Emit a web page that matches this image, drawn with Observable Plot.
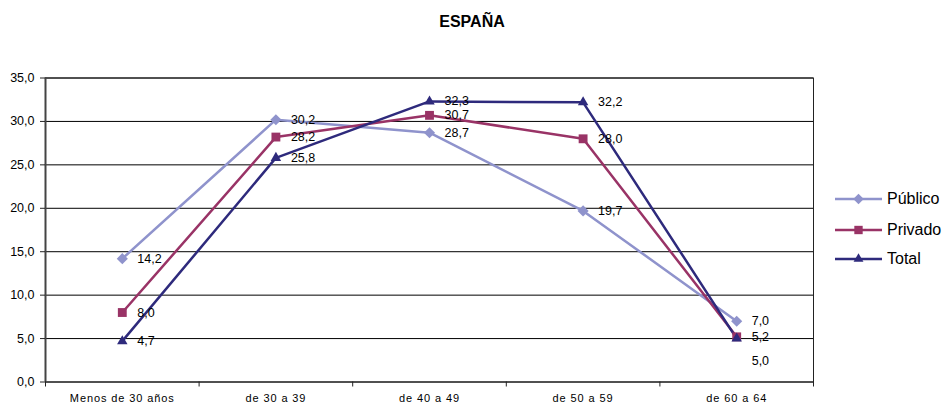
<!DOCTYPE html>
<html>
<head>
<meta charset="utf-8">
<script src="https://cdn.jsdelivr.net/npm/d3@7"></script>
<script src="https://cdn.jsdelivr.net/npm/@observablehq/plot@0.6"></script>
<style>
  html, body { margin: 0; padding: 0; background: #fff; }
  #wrap { position: relative; width: 944px; height: 406px; font-family: "Liberation Sans", Arial, sans-serif; }
  #title { position: absolute; left: 0; width: 944px; top: 13px; text-align: center; font-weight: bold; font-size: 16px; line-height: 18px; }
  #chart { position: absolute; left: 0; top: 0; }
  .leg { position: absolute; left: 835px; height: 20px; display: flex; align-items: center; font-size: 16px; }
  .leg svg { margin-right: 4px; }
  g[aria-label="x-axis tick label"] text { letter-spacing: 0.9px; }
</style>
</head>
<body>
<div id="wrap">
  <div id="chart"></div>
  <div id="title">ESPAÑA</div>
</div>
<script>
const categories = ["Menos de 30 años", "de 30 a 39", "de 40 a 49", "de 50 a 59", "de 60 a 64"];
const seriesNames = ["Público", "Privado", "Total"];
const publico = [14.2, 30.2, 28.7, 19.7, 7.0];
const privado = [8.0, 28.2, 30.7, 28.0, 5.2];
const total = [4.7, 25.8, 32.3, 32.2, 5.0];
const yTicks = [0, 5, 10, 15, 20, 25, 30, 35];
const colors = ["#8f93cc", "#993366", "#2e2a7c"];
const symbols = ["diamond2", "square", "triangle2"];

const values = [publico, privado, total];
const rows = [];
values.forEach((arr, si) => arr.forEach((v, i) => rows.push({i, v, s: seriesNames[si]})));

const fmt = d => d.toFixed(1).replace(".", ",");
const n = categories.length;
const boundaries = d3.range(n + 1).map(i => i - 0.5);
const centers = d3.range(n);
const isLowLabel = d => d.s === "Total" && d.i === n - 1;

const chart = Plot.plot({
  width: 944,
  height: 406,
  marginLeft: 45,
  marginRight: 131,
  marginTop: 77.5,
  marginBottom: 24.5,
  style: {fontFamily: "\"Liberation Sans\", Arial, sans-serif", fontSize: "12.5px", color: "#000", background: "transparent"},
  x: {type: "linear", domain: [-0.5, n - 0.5]},
  y: {domain: [0, 35]},
  color: {domain: seriesNames, range: colors},
  symbol: {domain: seriesNames, range: symbols},
  marks: [
    Plot.ruleY(yTicks, {stroke: "#000", strokeWidth: 1}),
    Plot.frame({stroke: "#222", strokeWidth: 1}),
    Plot.ruleX([-0.5], {stroke: "#444", strokeWidth: 2}),
    Plot.axisY({ticks: yTicks, tickSize: 5, tickPadding: 6, tickFormat: fmt, stroke: "#222", fontSize: 12.5, label: null}),
    Plot.axisX({ticks: boundaries, tickSize: 5, tickFormat: () => "", stroke: "#222", label: null}),
    Plot.axisX({ticks: centers, tickSize: 0, tickPadding: 12, tickFormat: i => categories[i], fontSize: 11, label: null}),
    Plot.line(rows, {x: "i", y: "v", z: "s", stroke: "s", strokeWidth: 2.5}),
    Plot.dot(rows, {x: "i", y: "v", symbol: "s", fill: "s", r: 5, stroke: "none"}),
    Plot.text(rows.filter(d => !isLowLabel(d)), {x: "i", y: "v", text: d => fmt(d.v), dx: 15, textAnchor: "start", fill: "#000", fontSize: 12.5}),
    Plot.text(rows.filter(isLowLabel), {x: "i", y: "v", text: d => fmt(d.v), dx: 15, dy: 22, textAnchor: "start", fill: "#000", fontSize: 12.5})
  ]
});
document.getElementById("chart").appendChild(chart);

// Legend
const legTops = [189, 220, 249];
const wrap = document.getElementById("wrap");
const symMap = {diamond2: d3.symbolDiamond2, square: d3.symbolSquare, triangle2: d3.symbolTriangle2};
seriesNames.forEach((name, k) => {
  const div = document.createElement("div");
  div.className = "leg";
  div.style.top = legTops[k] + "px";
  const svg = d3.create("svg").attr("width", 48).attr("height", 20);
  svg.append("line").attr("x1", 0).attr("x2", 47).attr("y1", 10).attr("y2", 10)
    .attr("stroke", colors[k]).attr("stroke-width", 2.5);
  svg.append("path").attr("d", d3.symbol(symMap[symbols[k]], 70)())
    .attr("transform", "translate(23.5,10)").attr("fill", colors[k]);
  div.appendChild(svg.node());
  const sp = document.createElement("span");
  sp.textContent = name;
  div.appendChild(sp);
  wrap.appendChild(div);
});
</script>
</body>
</html>
